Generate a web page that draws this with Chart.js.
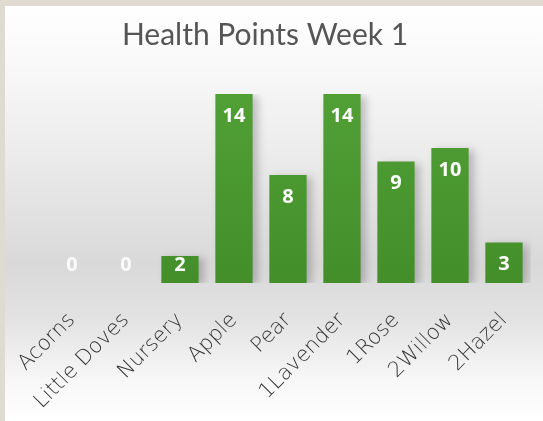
<!DOCTYPE html>
<html>
<head>
<meta charset="utf-8">
<script src="https://cdn.jsdelivr.net/npm/chart.js@4"></script>
<style>
html,body{margin:0;padding:0;background:#e0dbd1;}
canvas{display:block;}
</style>
</head>
<body>
<canvas id="c" width="543" height="421"></canvas>
<script>
const categories = ["Acorns","Little Doves","Nursery","Apple","Pear","1Lavender","1Rose","2Willow","2Hazel"];
const healthPoints = [0,0,2,14,8,14,9,10,3];
const chartTitle = "Health Points Week 1";

const bgPlugin = {
  id: 'bg',
  beforeDraw(chart) {
    const ctx = chart.ctx, w = chart.width, h = chart.height;
    ctx.save();
    ctx.fillStyle = '#e0dbd1';
    ctx.fillRect(0, 0, w, h);
    const g = ctx.createLinearGradient(0, 6, 0, h);
    g.addColorStop(0, '#ffffff');
    g.addColorStop(0.15, '#f8f8f8');
    g.addColorStop(0.35, '#ececec');
    g.addColorStop(0.62, '#d9d9d9');
    g.addColorStop(0.75, '#e2e2e2');
    g.addColorStop(0.9, '#f7f7f7');
    g.addColorStop(1, '#ffffff');
    ctx.fillStyle = g;
    ctx.fillRect(5, 6, w - 5, h - 6);
    // title
    ctx.fillStyle = '#555555';
    ctx.font = '30px Lato, "Open Sans", sans-serif';
    ctx.textAlign = 'center';
    ctx.textBaseline = 'alphabetic';
    ctx.fillText(chart.options.plugins.customTitle.text, 265, 45);
    ctx.restore();
  }
};

const shadowPlugin = {
  id: 'shadow',
  beforeDatasetsDraw(chart) {
    const ctx = chart.ctx;
    ctx.save();
    ctx.shadowColor = 'rgba(0,0,0,0.22)';
    ctx.shadowBlur = 8;
    ctx.shadowOffsetX = 5;
    ctx.shadowOffsetY = 2;
  },
  afterDatasetsDraw(chart) {
    chart.ctx.restore();
  }
};

const labelPlugin = {
  id: 'vals',
  afterDatasetsDraw(chart) {
    const ctx = chart.ctx;
    const meta = chart.getDatasetMeta(0);
    const data = chart.data.datasets[0].data;
    ctx.save();
    ctx.font = 'bold 20px "Open Sans", Lato, sans-serif';
    ctx.textAlign = 'center';
    ctx.textBaseline = 'middle';
    meta.data.forEach((bar, i) => {
      const y = Math.min(bar.y + 22, bar.base - 18);
      ctx.fillStyle = data[i] === 0 ? 'rgba(255,255,255,0.85)' : '#ffffff';
      ctx.fillText(String(data[i]), bar.x, y);
    });
    ctx.restore();
  }
};

const ctx = document.getElementById('c').getContext('2d');
const barGrad = ctx.createLinearGradient(0, 90, 0, 285);
barGrad.addColorStop(0, '#51a035');
barGrad.addColorStop(1, '#438e2a');

new Chart(ctx, {
  type: 'bar',
  data: {
    labels: categories,
    datasets: [{
      data: healthPoints,
      backgroundColor: barGrad,
      borderWidth: 0,
      barPercentage: 0.69,
      categoryPercentage: 1.0
    }]
  },
  options: {
    responsive: false,
    animation: false,
    devicePixelRatio: 1,
    layout: { padding: { left: 45, right: 12, top: 94, bottom: 0 } },
    plugins: {
      legend: { display: false },
      tooltip: { enabled: false },
      title: { display: false },
      customTitle: { text: chartTitle }
    },
    scales: {
      x: {
        grid: { display: false },
        border: { display: false },
        ticks: {
          autoSkip: false,
          minRotation: 45,
          maxRotation: 45,
          padding: 17,
          color: '#333333',
          font: { family: '"DejaVu Sans", sans-serif', size: 21, weight: 300 }
        },
        afterFit(scale) { scale.height = 138; }
      },
      y: {
        display: false,
        min: 0,
        max: 14
      }
    }
  },
  plugins: [bgPlugin, shadowPlugin, labelPlugin]
});
</script>
</body>
</html>
